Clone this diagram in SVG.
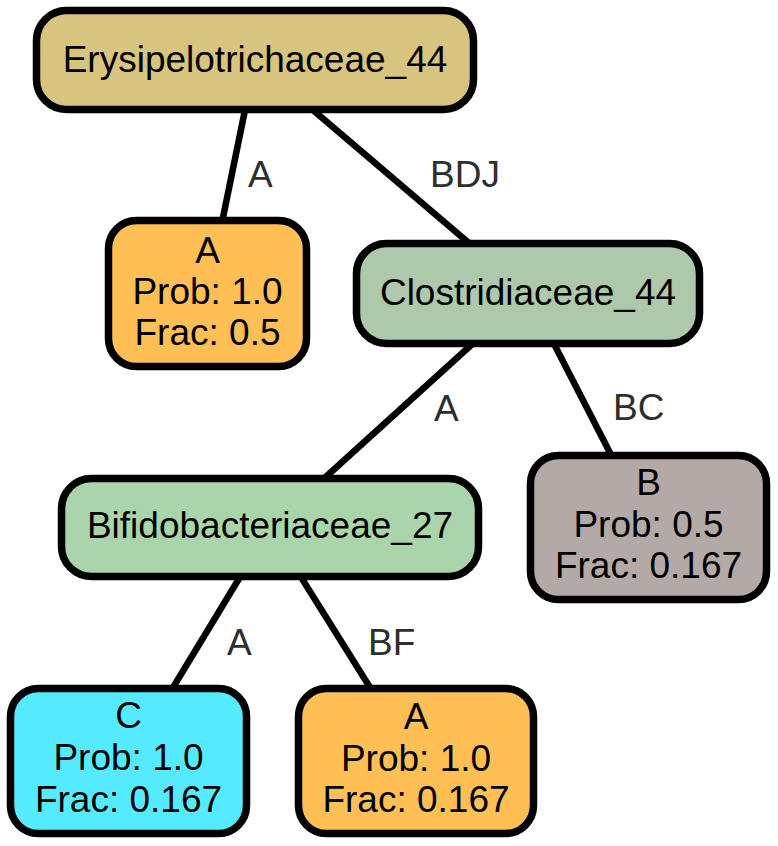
<svg xmlns="http://www.w3.org/2000/svg" width="778" height="846" viewBox="0 0 778 846">
  <style>
    .node rect { stroke: #000000; stroke-width: 7.5; }
    .node text { font-family: "Liberation Sans", Arial, Helvetica, sans-serif; font-size: 37px; fill: #000000; text-anchor: middle; }
    .edge line { stroke: #000000; stroke-width: 6.5; stroke-linecap: butt; }
    .elabel { font-family: "Liberation Sans", Arial, Helvetica, sans-serif; font-size: 37px; fill: #2e2e2e; }
  </style>
  <rect x="0" y="0" width="778" height="846" fill="#ffffff"/>

  <!-- tree edges with their labels -->
  <g id="edges" class="edge">
    <line x1="245" y1="110" x2="222.4" y2="220.5"/>
    <line x1="312.9" y1="110" x2="469.5" y2="243.5"/>
    <line x1="472.9" y1="343.5" x2="324" y2="478.5"/>
    <line x1="553.8" y1="343.5" x2="611.4" y2="455.5"/>
    <line x1="240.3" y1="576.5" x2="172.4" y2="688.5"/>
    <line x1="300.6" y1="576.5" x2="370.7" y2="688.5"/>
    <text class="elabel" x="248" y="187">A</text>
    <text class="elabel" x="430" y="187">BDJ</text>
    <text class="elabel" x="434" y="421">A</text>
    <text class="elabel" x="613" y="420">BC</text>
    <text class="elabel" x="227" y="655">A</text>
    <text class="elabel" x="368" y="655">BF</text>
  </g>

  <g id="erysipelotrichaceae_44" class="node">
    <rect x="36.5" y="10.5" width="437" height="99" rx="30" fill="#d6c47f"/>
    <text x="255" y="72">Erysipelotrichaceae_44</text>
  </g>

  <g id="leaf_a_top" class="node">
    <rect x="108.5" y="220.5" width="198" height="146" rx="28" fill="#fec055"/>
    <text x="207.5" y="263">A</text>
    <text x="207.5" y="304">Prob: 1.0</text>
    <text x="207.5" y="345">Frac: 0.5</text>
  </g>

  <g id="clostridiaceae_44" class="node">
    <rect x="356.5" y="243.5" width="343" height="100" rx="30" fill="#adc8aa"/>
    <text x="528" y="305">Clostridiaceae_44</text>
  </g>

  <g id="bifidobacteriaceae_27" class="node">
    <rect x="61.5" y="478.5" width="417" height="98" rx="30" fill="#aad5aa"/>
    <text x="270" y="538">Bifidobacteriaceae_27</text>
  </g>

  <g id="leaf_b" class="node">
    <rect x="530.5" y="455.5" width="236" height="144" rx="28" fill="#b3aaa8"/>
    <text x="648.5" y="495">B</text>
    <text x="648.5" y="537">Prob: 0.5</text>
    <text x="648.5" y="578">Frac: 0.167</text>
  </g>

  <g id="leaf_c" class="node">
    <rect x="10.5" y="688.5" width="236" height="145" rx="28" fill="#55ebff"/>
    <text x="128.5" y="728">C</text>
    <text x="128.5" y="770">Prob: 1.0</text>
    <text x="128.5" y="812">Frac: 0.167</text>
  </g>

  <g id="leaf_a_bottom" class="node">
    <rect x="298.5" y="688.5" width="235" height="145" rx="28" fill="#fec055"/>
    <text x="416" y="729">A</text>
    <text x="416" y="770.5">Prob: 1.0</text>
    <text x="416" y="812">Frac: 0.167</text>
  </g>
</svg>
